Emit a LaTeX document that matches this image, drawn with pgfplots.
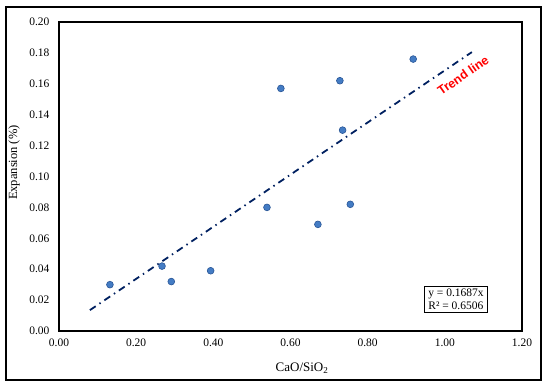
\documentclass[border=0pt]{standalone}
\usepackage{fontspec}
\setmainfont{Liberation Serif}
\newfontfamily\arialfont{Liberation Sans}
\usepackage{pgfplots}
\pgfplotsset{compat=1.18}
\definecolor{trend}{RGB}{0,32,96}
\definecolor{mfill}{RGB}{68,124,196}
\definecolor{medge}{RGB}{40,85,150}
\begin{document}
\begin{tikzpicture}[x=1pt,y=1pt]
\path[use as bounding box] (0,0) rectangle (550,388);
\draw[line width=2pt] (6,8) rectangle (541,381);
\begin{axis}[
  at={(59pt,57pt)}, anchor=south west,
  scale only axis, width=463pt, height=309pt,
  xmin=0, xmax=1.2, ymin=0, ymax=0.2,
  xtick={0,0.2,0.4,0.6,0.8,1.0,1.2},
  ytick={0,0.02,0.04,0.06,0.08,0.10,0.12,0.14,0.16,0.18,0.20},
  scaled x ticks=false, scaled y ticks=false,
  major tick length=0pt,
  axis line style={line width=1.4pt},
  tick label style={font=\fontsize{11.5}{13}\selectfont},
  /pgf/number format/assume math mode=true,
  /pgf/number format/fixed,
  /pgf/number format/zerofill,
  /pgf/number format/precision=2,
  xticklabel shift=4pt, yticklabel shift=6pt,
  xlabel={CaO/SiO\textsubscript{2}},
  ylabel={Expansion (\%)},
  xlabel style={at={(axis description cs:0.525,-0.12)}, anchor=center, font=\fontsize{13}{15}\selectfont},
  ylabel style={at={(axis description cs:-0.097,0.545)}, anchor=center, font=\fontsize{12.5}{15}\selectfont},
  clip=false,
]
\addplot[trend, line width=1.8pt, dash pattern=on 7pt off 4.5pt on 1.5pt off 4.5pt]
  coordinates {(0.08,0.0135) (1.07,0.1805)};
\addplot[only marks, mark=*, mark size=3.4pt, mark options={fill=mfill, draw=medge, line width=0.6pt}]
  coordinates {
  (0.132,0.030) (0.267,0.042) (0.291,0.032) (0.393,0.039)
  (0.539,0.080) (0.671,0.069) (0.755,0.082) (0.575,0.157)
  (0.728,0.162) (0.735,0.130) (0.918,0.176)
  };
\node[rotate=35, text=red, font=\arialfont\bfseries\fontsize{12.5}{14}\selectfont] at (axis cs:1.047,0.1655) {Trend line};
\node[draw, line width=0.8pt, align=left, font=\fontsize{11.5}{13}\selectfont, inner xsep=4pt, inner ysep=2.5pt] at (axis cs:1.029,0.0207) {y = 0.1687x\\R² = 0.6506};
\end{axis}
\end{tikzpicture}
\end{document}
